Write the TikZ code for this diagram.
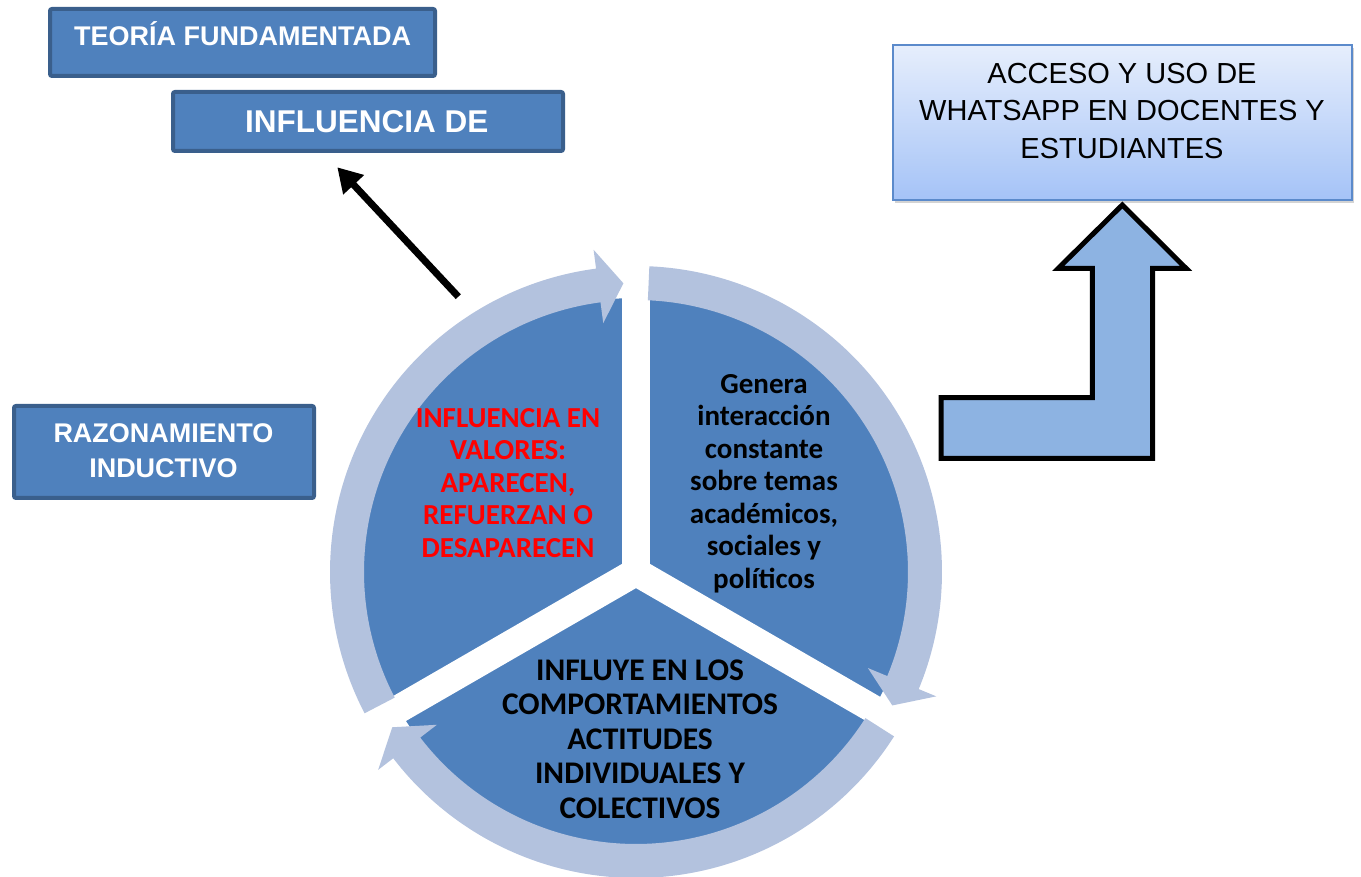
\documentclass[tikz,border=0pt]{standalone}
\usepackage{fontspec}
\setmainfont{Liberation Sans}
\newfontfamily\calib{Carlito}
\usetikzlibrary{arrows.meta,calc,shadows}
\definecolor{secblue}{HTML}{4F81BD}
\definecolor{ringblue}{HTML}{B3C2DE}
\definecolor{boxborder}{HTML}{3A5F8C}
\definecolor{arrowfill}{HTML}{8DB3E2}
\definecolor{gradtop}{HTML}{E6EEFC}
\definecolor{gradbot}{HTML}{A5C3F7}
\definecolor{accborder}{HTML}{5B8ACB}
\definecolor{redtext}{HTML}{FF0000}
\begin{document}
\begin{tikzpicture}[x=1pt,y=1pt,
  darkbox/.style={draw=boxborder, line width=4pt, fill=secblue, rounded corners=2pt, inner sep=0pt},
  boxtext/.style={text=white, font=\bfseries\fontsize{27}{35}\selectfont, align=center, inner sep=0pt},
  lightbox/.style={draw=accborder, line width=1.5pt, top color=gradtop, bottom color=gradbot, inner sep=0pt,
     drop shadow={shadow xshift=2pt, shadow yshift=-3pt, opacity=0.35}},
  sectext/.style={font=\calib\bfseries\fontsize{29}{32.5}\selectfont, align=center, inner sep=0pt},
  ringfill/.style={fill=ringblue},
  blockarrow/.style={draw=black, line width=5pt, fill=arrowfill, line join=miter},
  pointer/.style={line width=7pt, -{Triangle[length=24pt,width=27pt]}}
]
\useasboundingbox (0,0) rectangle (1361,877);

% top-left boxes
\node[darkbox, minimum width=385pt, minimum height=67pt] (teo) at (242.5,834.5) {};
\node[boxtext] (teot) at (242.7,843) {TEORÍA FUNDAMENTADA};
\node[darkbox, minimum width=390pt, minimum height=59pt] (inf) at (368,755.5) {};
\node[boxtext, font=\bfseries\fontsize{31.5}{35}\selectfont] (inft) at (366.7,755) {INFLUENCIA DE};
\node[darkbox, minimum width=300pt, minimum height=92pt] (raz) at (164,425) {};
\node[boxtext] (razt) at (163.5,426.5) {RAZONAMIENTO\\INDUCTIVO};

% right box
\node[lightbox, minimum width=459pt, minimum height=155pt] (acc) at (1122.5,754.5) {};
\node[font=\fontsize{29}{37.5}\selectfont, align=center, inner sep=0pt] (acct) at (1122,766)
  {ACCESO Y USO DE\\WHATSAPP EN DOCENTES Y\\ESTUDIANTES};

% bent block arrow
\draw[blockarrow] (1122.3,672) -- (1186,608.7) -- (1152.7,608.7) -- (1152.7,418.7)
  -- (941,418.7) -- (941,479.3) -- (1092.3,479.3) -- (1092.3,608.7) -- (1058.3,608.7) -- cycle;

% cycle
\coordinate (C) at (636,305);
\fill[secblue] (C) circle[radius=274pt];
\foreach \a in {90,210,330} \draw[white, line width=28pt] (C) -- ++(\a:300pt);
\foreach \s/\t in {207.5/92.5, 87.5/-27.5, -32.5/-147.5}{
  \pgfmathsetmacro\b{\t+5}
  \fill[ringfill] ($(C)+(\s:306pt)$) arc[start angle=\s, end angle=\b, radius=306pt]
    -- ($(C)+(\b:325pt)$) -- ($(C)+(\t:289pt)$) -- ($(C)+(\b:251pt)$)
    -- ($(C)+(\b:272pt)$) arc[start angle=\b, end angle=\s, radius=272pt] -- cycle;
}
\node[sectext, text=redtext] (val) at (508,394)
  {INFLUENCIA EN\\VALORES:\\APARECEN,\\REFUERZAN O\\DESAPARECEN};
\node[sectext] (gen) at (764,393.5)
  {Genera\\interacción\\constante\\sobre temas\\académicos,\\sociales y\\políticos};
\node[sectext, font=\calib\bfseries\fontsize{31.5}{34.5}\selectfont] (inflq) at (640,138)
  {INFLUYE EN LOS\\COMPORTAMIENTOS\\ACTITUDES\\INDIVIDUALES Y\\COLECTIVOS};

% black pointer arrow
\coordinate (pa) at (458.3,580.3);
\coordinate (pb) at (337.3,709.7);
\draw[pointer] (pa) -- (pb);
\end{tikzpicture}
\end{document}
